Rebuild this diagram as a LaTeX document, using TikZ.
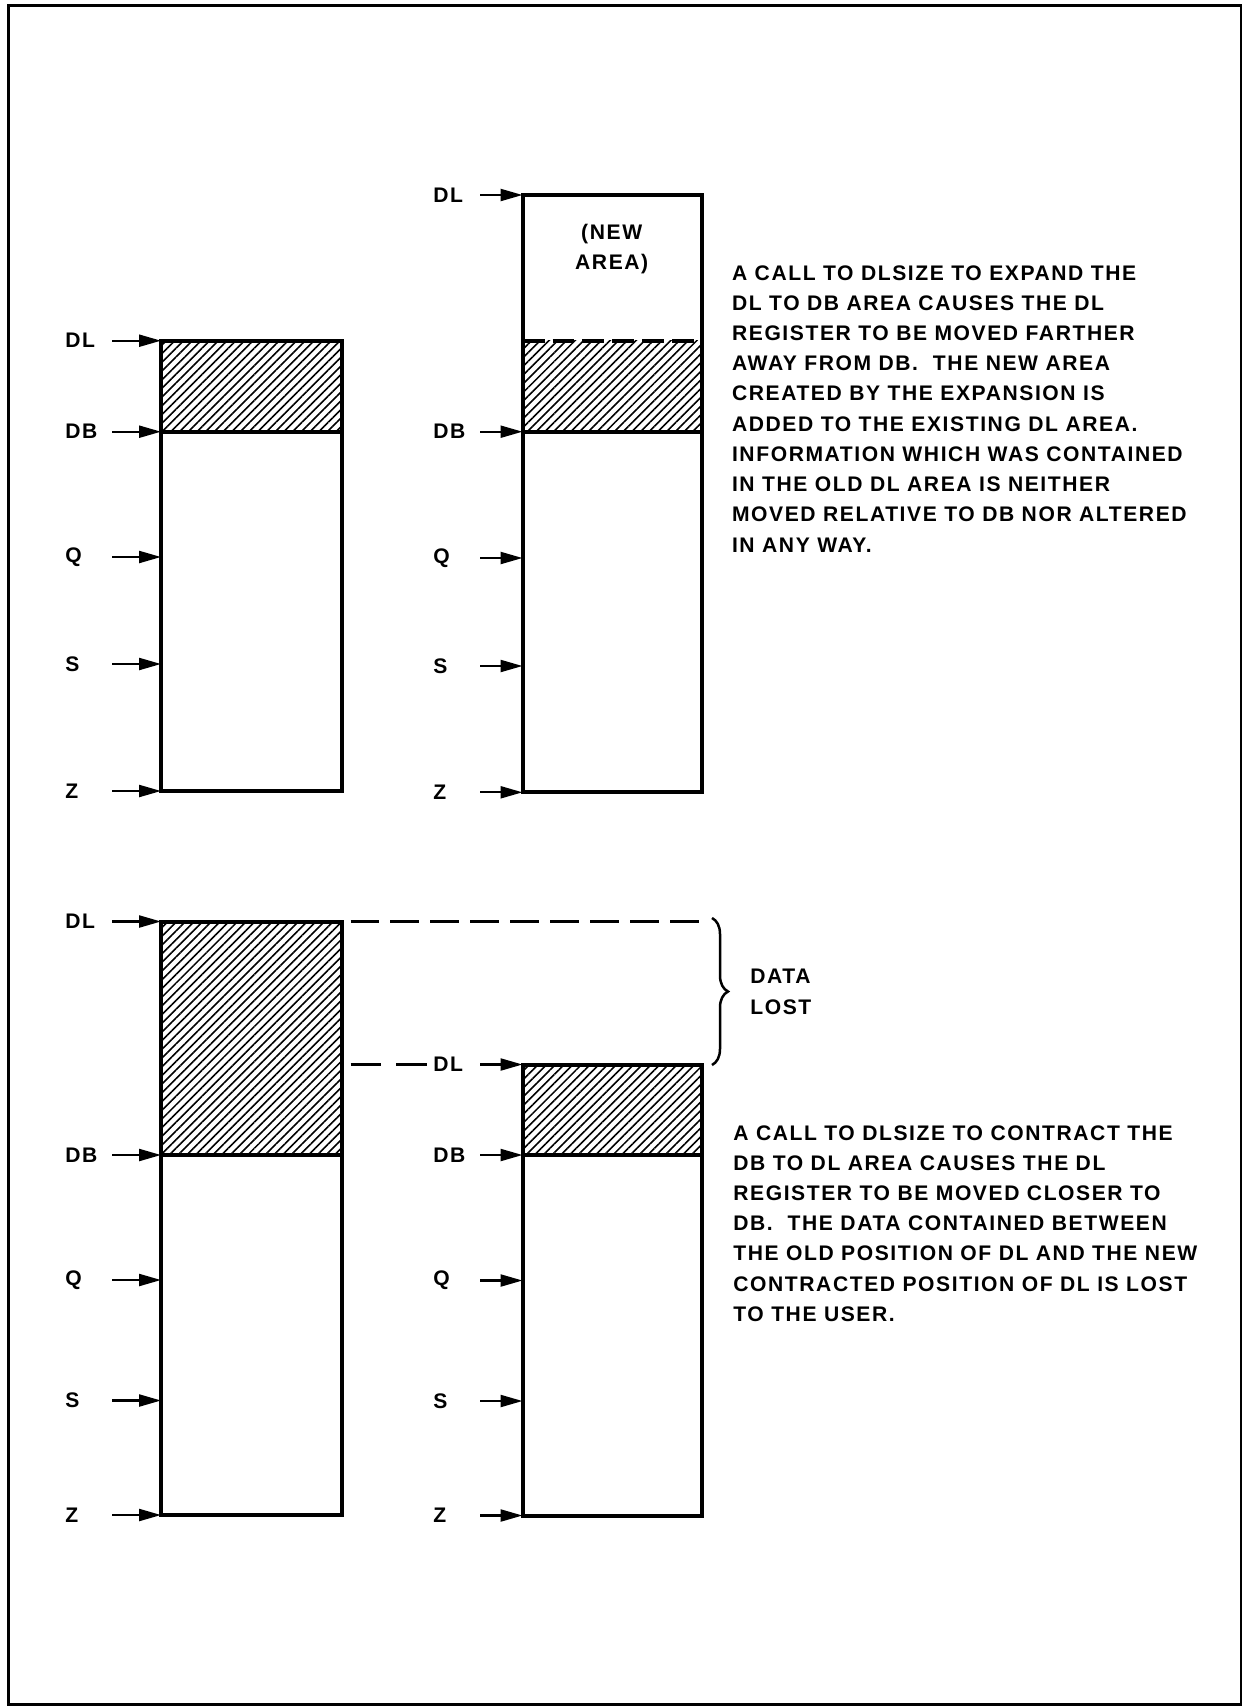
\documentclass[tikz,border=0pt]{standalone}
\usepackage{fontspec}
\newfontfamily\platefont[LetterSpace=7.5]{Liberation Sans}
\usetikzlibrary{arrows.meta,patterns.meta,decorations.pathreplacing}
\tikzset{
  wall/.style={line width=0.08cm},
  hatch/.style={pattern={Lines[angle=45,distance=3.5pt,line width=0.9pt]}},
  ptr/.style={-{Triangle[length=0.44cm,width=0.24cm]}, line width=0.045cm},
  reg/.style={font=\platefont\bfseries\fontsize{12}{17.2}\selectfont, inner sep=0pt, anchor=west, text width=0.93cm, align=left},
  desc/.style={font=\platefont\bfseries\fontsize{12}{17.2}\selectfont, inner sep=0pt, align=left},
  newline/.style={wall, dash pattern=on 0.44cm off 0.16cm},
  lostline/.style={line width=0.045cm, dash pattern=on 0.58cm off 0.22cm},
  lostbrace/.style={decorate, decoration={brace, amplitude=0.32cm}, line width=0.05cm},
  frame/.style={line width=0.05cm}
}

\begin{document}
\begin{tikzpicture}[x=0.02cm, y=-0.02cm]
  \useasboundingbox (0,0) rectangle (1243,1707);
  \draw[frame] (8.7,5.5) rectangle (1241,1704.5);

  % before expansion
  \fill[hatch] (161,340.7) rectangle (342,431.7);
  \draw[wall] (161,340.7) rectangle (342,791);
  \draw[wall] (161,431.7) -- (342,431.7);
  \coordinate (b1dl) at (161,340.7);
  \coordinate (b1db) at (161,431.7);
  \coordinate (b1q) at (161,557);
  \coordinate (b1s) at (161,664);
  \coordinate (b1z) at (161,791);
  \node[reg] (l1dl) at (65,340.7) {DL};
  \node[reg] (l1db) at (65,431.7) {DB};
  \node[reg] (l1q) at (65,557) {Q};
  \node[reg] (l1s) at (65,664) {S};
  \node[reg] (l1z) at (65,791) {Z};
  \draw[ptr] (l1dl) -- (b1dl);
  \draw[ptr] (l1db) -- (b1db);
  \draw[ptr] (l1q) -- (b1q);
  \draw[ptr] (l1s) -- (b1s);
  \draw[ptr] (l1z) -- (b1z);

  % after expansion
  \fill[hatch] (522.5,340.7) rectangle (701.5,431.7);
  \draw[wall] (522.5,195) rectangle (701.5,792.3);
  \draw[newline] (522.5,340.7) -- (701.5,340.7);
  \draw[wall] (522.5,431.7) -- (701.5,431.7);
  \coordinate (b2dl) at (522.5,195);
  \coordinate (b2db) at (522.5,431.7);
  \coordinate (b2q) at (522.5,558);
  \coordinate (b2s) at (522.5,666);
  \coordinate (b2z) at (522.5,792.3);
  \node[reg] (l2dl) at (433,195) {DL};
  \node[reg] (l2db) at (433,431.7) {DB};
  \node[reg] (l2q) at (433,558) {Q};
  \node[reg] (l2s) at (433,666) {S};
  \node[reg] (l2z) at (433,792.3) {Z};
  \draw[ptr] (l2dl) -- (b2dl);
  \draw[ptr] (l2db) -- (b2db);
  \draw[ptr] (l2q) -- (b2q);
  \draw[ptr] (l2s) -- (b2s);
  \draw[ptr] (l2z) -- (b2z);
  \node[desc, align=center, anchor=north] (newarea) at (611.7,224) {(NEW\\AREA)};

  \node[desc, anchor=north west] (expandtxt) at (731.7,265) {A CALL TO DLSIZE TO EXPAND THE\\
    DL TO DB AREA CAUSES THE DL\\
    REGISTER TO BE MOVED FARTHER\\
    AWAY FROM DB.\ \ THE NEW AREA\\
    CREATED BY THE EXPANSION IS\\
    ADDED TO THE EXISTING DL AREA.\\
    INFORMATION WHICH WAS CONTAINED\\
    IN THE OLD DL AREA IS NEITHER\\
    MOVED RELATIVE TO DB NOR ALTERED\\
    IN ANY WAY.};

  % before contraction
  \fill[hatch] (161,921.5) rectangle (342,1155);
  \draw[wall] (161,921.5) rectangle (342,1515);
  \draw[wall] (161,1155) -- (342,1155);
  \coordinate (b3dl) at (161,921.5);
  \coordinate (b3db) at (161,1155);
  \coordinate (b3q) at (161,1280);
  \coordinate (b3s) at (161,1400.5);
  \coordinate (b3z) at (161,1515);
  \node[reg] (l3dl) at (65,921.5) {DL};
  \node[reg] (l3db) at (65,1155) {DB};
  \node[reg] (l3q) at (65,1280) {Q};
  \node[reg] (l3s) at (65,1400.5) {S};
  \node[reg] (l3z) at (65,1515) {Z};
  \draw[ptr] (l3dl) -- (b3dl);
  \draw[ptr] (l3db) -- (b3db);
  \draw[ptr] (l3q) -- (b3q);
  \draw[ptr] (l3s) -- (b3s);
  \draw[ptr] (l3z) -- (b3z);

  % after contraction
  \fill[hatch] (522.5,1064.5) rectangle (702,1155);
  \draw[wall] (522.5,1064.5) rectangle (702,1515.5);
  \draw[wall] (522.5,1155) -- (702,1155);
  \coordinate (b4dl) at (522.5,1064.5);
  \coordinate (b4db) at (522.5,1155);
  \coordinate (b4q) at (522.5,1280.5);
  \coordinate (b4s) at (522.5,1401);
  \coordinate (b4z) at (522.5,1515.5);
  \node[reg] (l4dl) at (433,1064.5) {DL};
  \node[reg] (l4db) at (433,1155) {DB};
  \node[reg] (l4q) at (433,1280.5) {Q};
  \node[reg] (l4s) at (433,1401) {S};
  \node[reg] (l4z) at (433,1515.5) {Z};
  \draw[ptr] (l4dl) -- (b4dl);
  \draw[ptr] (l4db) -- (b4db);
  \draw[ptr] (l4q) -- (b4q);
  \draw[ptr] (l4s) -- (b4s);
  \draw[ptr] (l4z) -- (b4z);

  % lost region
  \coordinate (b3ne) at (342,921.5);
  \coordinate (b3old) at (342,1064.5);
  \coordinate (lostend) at (703,921.5);
  \coordinate (bracetop) at (712,918);
  \coordinate (bracebot) at (712,1065);
  \draw[lostline, shorten <=0.17cm] (b3ne) -- (lostend);
  \draw[lostline, dash pattern=on 0.62cm off 0.3cm, shorten <=0.17cm, shorten >=0.13cm] (b3old) -- (l4dl.west);
  \draw[lostbrace] (bracetop) -- (bracebot);
  \node[desc, anchor=north west] (lost) at (750,969) {DATA\\LOST};

  \node[desc, anchor=north west] (contracttxt) at (733,1125) {A CALL TO DLSIZE TO CONTRACT THE\\
    DB TO DL AREA CAUSES THE DL\\
    REGISTER TO BE MOVED CLOSER TO\\
    DB.\ \ THE DATA CONTAINED BETWEEN\\
    THE OLD POSITION OF DL AND THE NEW\\
    CONTRACTED POSITION OF DL IS LOST\\
    TO THE USER.};
\end{tikzpicture}
\end{document}
